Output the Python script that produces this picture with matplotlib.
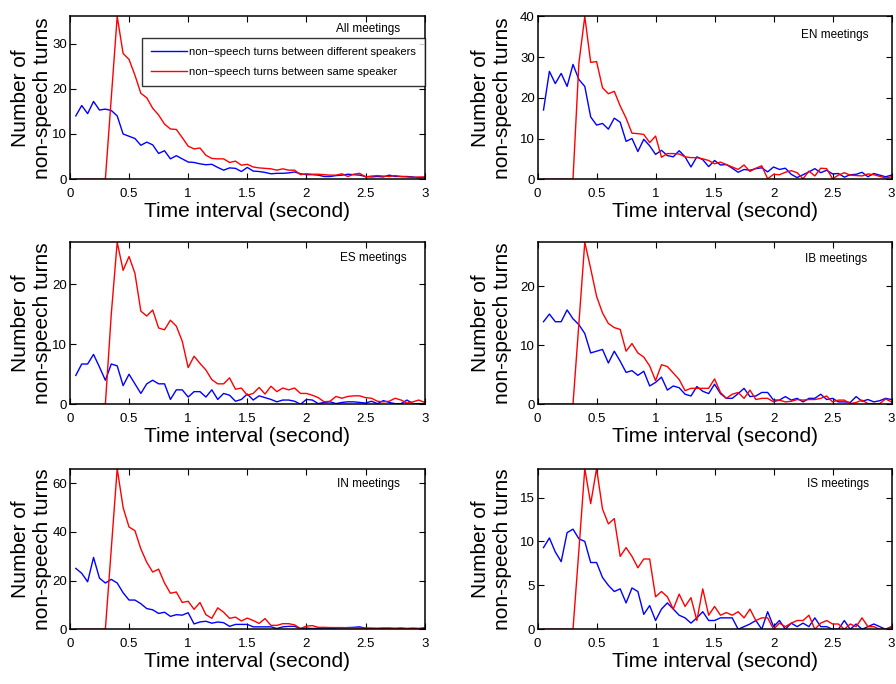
import numpy as np
import matplotlib
matplotlib.use('Agg')
import matplotlib.pyplot as plt
from matplotlib.ticker import MultipleLocator

plt.rcParams['font.family'] = ['Liberation Sans', 'DejaVu Sans']

# bin centres (seconds)
time_s = np.round(np.arange(1, 61) * 0.05, 2)

# non-speech turns between different speakers / same speaker, per meeting group
all_diff = [14.0, 16.3, 14.5, 17.2, 15.3, 15.5, 15.2, 14.0, 10.0, 9.5,
            9.0, 7.5, 8.2, 7.6, 5.7, 6.3, 4.5, 5.2, 4.5, 3.8,
            3.7, 3.4, 3.2, 3.3, 2.6, 2.0, 2.5, 2.4, 1.7, 2.6,
            1.8, 1.7, 1.5, 1.2, 1.3, 1.3, 1.4, 1.6, 1.2, 1.0,
            1.0, 0.9, 0.6, 0.6, 0.8, 0.9, 1.1, 1.0, 0.9, 0.6,
            0.5, 0.6, 0.5, 0.9, 0.6, 0.6, 0.6, 0.5, 0.3, 0.4]
all_same = [0, 0, 0, 0, 0, 0, 18.0, 36.0, 27.8, 26.5,
            23.0, 19.0, 18.0, 15.7, 14.2, 12.2, 11.1, 11.0, 9.2, 7.3,
            6.7, 6.9, 5.3, 4.6, 4.5, 4.5, 3.7, 4.0, 3.1, 3.3,
            2.7, 2.5, 2.4, 2.3, 2.0, 2.3, 2.0, 2.0, 1.0, 1.2,
            1.1, 1.1, 1.0, 0.9, 0.9, 1.2, 0.6, 1.1, 1.3, 0.5,
            0.7, 0.8, 0.7, 0.6, 0.8, 0.6, 0.5, 0.4, 0.5, 0.5]

en_diff = [17.0, 26.5, 23.5, 26.0, 22.8, 28.2, 24.5, 22.8, 15.3, 13.3,
           13.7, 12.3, 15.0, 14.0, 9.3, 10.0, 6.8, 9.8, 8.2, 6.1,
           7.1, 5.8, 5.5, 7.0, 5.5, 3.0, 5.5, 4.8, 3.1, 4.6,
           3.5, 3.6, 2.7, 1.7, 2.4, 2.2, 2.6, 2.8, 1.8, 3.0,
           2.4, 2.7, 1.2, 0.4, 1.1, 1.8, 2.6, 1.6, 2.2, 1.3,
           1.4, 0.5, 1.1, 1.2, 1.7, 0.6, 1.4, 1.0, 0.6, 1.0]
en_same = [0, 0, 0, 0, 0, 0, 28.5, 40.0, 28.7, 28.9,
           22.5, 21.0, 21.6, 18.0, 15.0, 11.3, 11.2, 11.0, 9.0, 10.6,
           5.4, 6.3, 6.3, 6.2, 5.5, 5.3, 5.3, 5.0, 4.6, 3.8,
           4.2, 3.6, 3.0, 2.4, 3.5, 1.9, 2.7, 3.3, 0.1, 1.2,
           1.1, 1.7, 2.1, 1.6, 0.1, 2.0, 0.8, 2.7, 2.6, 0.1,
           1.0, 1.6, 1.0, 0.9, 0.8, 1.3, 1.1, 0.7, 0.3, 0.6]

es_diff = [4.8, 6.7, 6.7, 8.3, 6.2, 4.0, 6.7, 6.4, 3.1, 5.0,
           3.4, 1.8, 3.4, 4.0, 3.4, 3.4, 0.8, 2.4, 2.4, 1.2,
           2.1, 2.1, 1.2, 2.4, 0.8, 1.8, 1.5, 0.5, 0.8, 1.7,
           0.7, 1.4, 1.1, 0.8, 0.4, 0.7, 0.7, 0.5, 0.0, 0.8,
           0.7, 0.1, 0.3, 0.4, 0.1, 0.3, 0.4, 0.4, 0.3, 0.2,
           0.5, 0.1, 0.6, 0.3, 0.1, 0.1, 0.7, 0.1, 0.1, 0.1]
es_same = [0, 0, 0, 0, 0, 0, 15.0, 27.0, 22.3, 24.6,
           21.8, 15.5, 14.7, 15.7, 12.7, 12.4, 14.0, 13.0, 10.5, 6.1,
           8.0, 6.8, 5.7, 4.1, 3.4, 3.4, 4.4, 2.5, 2.7, 1.5,
           1.8, 2.8, 1.7, 3.0, 2.1, 2.7, 2.4, 2.7, 1.8, 1.8,
           1.5, 1.1, 0.4, 0.5, 1.3, 1.0, 1.3, 1.4, 1.4, 1.1,
           1.0, 0.5, 0.4, 0.5, 1.0, 0.7, 0.2, 0.4, 0.7, 0.3]

ib_diff = [14.0, 15.3, 14.0, 14.0, 16.0, 14.5, 13.5, 12.0, 8.7, 9.0,
           9.3, 7.0, 9.0, 7.3, 5.4, 5.7, 4.9, 5.6, 3.1, 3.7,
           4.6, 2.4, 3.1, 2.8, 1.7, 1.4, 3.0, 2.2, 1.8, 3.4,
           1.8, 1.0, 1.0, 1.8, 2.7, 1.3, 1.4, 2.0, 2.0, 0.7,
           0.7, 1.3, 0.7, 1.0, 0.4, 1.0, 1.0, 1.7, 0.8, 1.0,
           0.4, 0.4, 0.3, 1.3, 0.5, 0.8, 0.4, 0.6, 1.0, 0.8]
ib_same = [0, 0, 0, 0, 0, 0, 13.7, 27.5, 23.0, 18.3,
           15.5, 13.7, 13.0, 12.7, 9.0, 10.3, 8.7, 8.0, 6.5, 4.0,
           6.7, 6.4, 5.3, 4.2, 2.3, 2.7, 2.7, 2.7, 2.7, 4.3,
           2.0, 1.0, 1.7, 2.0, 1.0, 2.4, 0.8, 1.0, 1.0, 0.4,
           0.7, 0.4, 0.5, 0.8, 0.7, 0.8, 0.8, 1.0, 1.4, 0.4,
           0.7, 0.7, 0.1, 0.3, 0.7, 0.1, 0.1, 0.1, 0.9, 0.4]

in_diff = [25.0, 23.0, 19.5, 29.5, 21.0, 19.0, 20.5, 19.0, 15.0, 12.0,
           12.0, 10.5, 8.5, 8.0, 6.5, 7.0, 5.3, 6.0, 5.8, 6.8,
           2.2, 3.0, 3.3, 2.5, 3.0, 2.7, 1.2, 2.0, 2.0, 2.0,
           1.0, 1.0, 1.0, 1.0, 0.3, 1.0, 1.2, 1.2, 0.3, 0.5,
           0.3, 0.4, 0.5, 0.4, 0.5, 0.6, 0.7, 0.8, 1.0, 0.4,
           0.4, 0.3, 0.4, 0.5, 0.3, 0.4, 0.3, 0.4, 0.3, 0.3]
in_same = [0, 0, 0, 0, 0, 0, 33.0, 66.0, 50.0, 42.0,
           40.5, 33.0, 27.5, 23.5, 24.7, 19.0, 14.8, 15.3, 11.0, 11.5,
           8.2, 11.0, 6.0, 4.5, 8.8, 7.0, 4.5, 5.0, 3.4, 4.6,
           3.6, 2.4, 4.4, 1.6, 1.6, 2.3, 2.3, 1.8, 0.3, 1.3,
           1.5, 0.8, 0.8, 0.7, 0.7, 0.7, 0.6, 0.6, 0.5, 0.5,
           0.4, 0.4, 0.5, 0.3, 0.4, 0.5, 0.3, 0.4, 0.3, 0.7]

is_diff = [9.3, 10.4, 8.8, 7.7, 11.0, 11.4, 10.3, 10.0, 7.6, 7.6,
           5.9, 5.0, 4.3, 4.6, 3.0, 4.7, 4.3, 1.7, 2.7, 1.0,
           2.3, 3.0, 2.3, 1.6, 1.3, 0.7, 1.3, 2.0, 1.0, 1.0,
           1.3, 1.3, 1.3, 0.0, 0.3, 0.6, 1.0, 0.0, 2.0, 0.3,
           1.0, 0.0, 0.7, 0.3, 0.7, 0.3, 1.3, 0.3, 0.3, 0.0,
           0.0, 1.0, 0.0, 0.6, 0.0, 0.3, 0.6, 0.3, 0.0, 0.3]
is_same = [0, 0, 0, 0, 0, 0, 9.0, 18.3, 14.3, 18.3,
           13.7, 12.0, 12.6, 8.3, 9.3, 8.3, 7.0, 8.0, 8.0, 3.7,
           4.3, 3.7, 2.3, 4.0, 2.6, 3.6, 1.0, 4.6, 1.6, 2.6,
           1.6, 1.9, 1.6, 2.0, 1.3, 2.3, 1.0, 1.3, 1.3, 0.0,
           0.7, 0.3, 0.7, 1.0, 1.0, 1.6, 0.0, 0.7, 1.0, 0.6,
           0.6, 0.0, 0.6, 0.3, 1.3, 0.3, 0.3, 0.0, 0.0, 0.3]

titles = ['All meetings', 'EN meetings', 'ES meetings', 'IB meetings', 'IN meetings', 'IS meetings']
diff_series = [all_diff, en_diff, es_diff, ib_diff, in_diff, is_diff]
same_series = [all_same, en_same, es_same, ib_same, in_same, is_same]
ytick_steps = [10, 10, 10, 10, 20, 5]
xtick_vals = [0, 0.5, 1, 1.5, 2, 2.5, 3]
xtick_labels = ['0', '0.5', '1', '1.5', '2', '2.5', '3']

# axes rectangles in figure fractions, and in-axes title spots
rects = [[0.078, 0.738, 0.396, 0.238], [0.600, 0.738, 0.395, 0.238],
         [0.078, 0.409, 0.396, 0.237], [0.600, 0.409, 0.395, 0.237],
         [0.078, 0.080, 0.396, 0.235], [0.600, 0.080, 0.395, 0.235]]
title_pos = [(0.93, 0.925), (0.935, 0.885), (0.95, 0.905),
             (0.93, 0.895), (0.93, 0.905), (0.935, 0.905)]
ylabel_x = [-0.05, -0.073]

fig = plt.figure(figsize=(8.96, 6.84), dpi=100)

for i in range(6):
    ax = fig.add_axes(rects[i])
    l1, = ax.plot(time_s, diff_series[i], color='#0000ff', lw=1.0)
    l2, = ax.plot(time_s, same_series[i], color='#ff0000', lw=1.0)
    ax.set_xlim(0, 3)
    ax.set_ylim(0, max(max(diff_series[i]), max(same_series[i])))
    ax.set_xticks(xtick_vals)
    ax.set_xticklabels(xtick_labels)
    ax.yaxis.set_major_locator(MultipleLocator(ytick_steps[i]))
    ax.tick_params(direction='in', top=True, right=True, length=4, width=0.8,
                   labelsize=9.5)
    ax.tick_params(axis='x', pad=6)
    ax.tick_params(axis='y', pad=2)
    for sp in ax.spines.values():
        sp.set_linewidth(1.1)
    ax.set_xlabel('Time interval (second)', fontsize=15, labelpad=2)
    ax.set_ylabel('Number of\nnon-speech turns', fontsize=15, linespacing=1.2)
    ax.yaxis.set_label_coords(ylabel_x[i % 2], 0.5)
    ax.text(title_pos[i][0], title_pos[i][1], titles[i], transform=ax.transAxes,
            ha='right', va='center', fontsize=8.5)
    if i == 0:
        leg = ax.legend([l1, l2], ['non\u2212speech turns between different speakers',
                                   'non\u2212speech turns between same speaker'],
                        loc='upper right', bbox_to_anchor=(1.0, 0.865), fontsize=8,
                        frameon=True, fancybox=False, borderaxespad=0,
                        handlelength=3.2, handletextpad=0.2, borderpad=0.8,
                        labelspacing=0.9)
        leg.get_frame().set_edgecolor('black')
        leg.get_frame().set_linewidth(1.0)

fig.savefig('out.png', dpi=100)
